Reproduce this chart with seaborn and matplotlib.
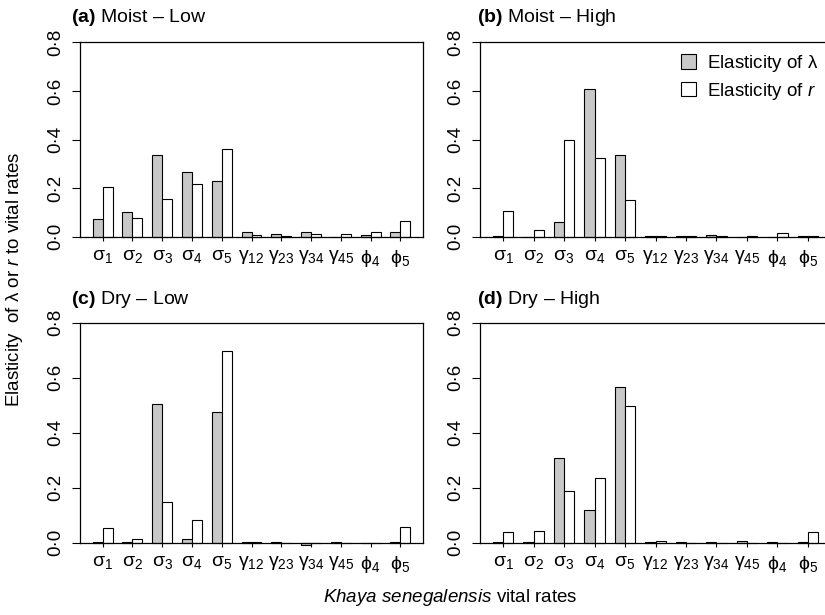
import pandas as pd
import matplotlib
matplotlib.use('Agg')
import matplotlib.pyplot as plt
import seaborn as sns
from matplotlib.patches import Patch

# Vital rates and their tick labels
rates = ['s1', 's2', 's3', 's4', 's5', 'g12', 'g23', 'g34', 'g45', 'p4', 'p5']
tick_labels = [r'$\mathrm{\sigma}_1$', r'$\mathrm{\sigma}_2$', r'$\mathrm{\sigma}_3$',
               r'$\mathrm{\sigma}_4$', r'$\mathrm{\sigma}_5$', r'$\mathrm{\gamma}_{12}$',
               r'$\mathrm{\gamma}_{23}$', r'$\mathrm{\gamma}_{34}$', r'$\mathrm{\gamma}_{45}$',
               r'$\mathrm{\phi}_4$', r'$\mathrm{\phi}_5$']

# Elasticities
lam_moist_low = [0.071, 0.100, 0.336, 0.266, 0.230, 0.018, 0.010, 0.018, -0.002, 0.005, 0.018]
r_moist_low = [0.203, 0.075, 0.154, 0.215, 0.359, 0.008, 0.004, 0.012, 0.011, 0.019, 0.063]
lam_moist_high = [0.001, -0.001, 0.059, 0.606, 0.336, 0.001, 0.001, 0.008, -0.002, 0.000, 0.004]
r_moist_high = [0.104, 0.029, 0.400, 0.322, 0.150, 0.002, 0.002, 0.001, 0.001, 0.015, 0.003]
lam_dry_low = [0.001, 0.002, 0.505, 0.015, 0.474, 0.002, 0.001, -0.008, 0.001, 0.000, 0.001]
r_dry_low = [0.055, 0.012, 0.148, 0.081, 0.698, 0.001, 0.000, 0.000, 0.000, 0.000, 0.057]
lam_dry_high = [0.001, 0.003, 0.309, 0.118, 0.567, 0.001, 0.001, 0.001, 0.008, 0.002, 0.001]
r_dry_high = [0.038, 0.041, 0.187, 0.234, 0.498, 0.006, 0.000, 0.000, 0.000, 0.000, 0.040]

panel_tags = ['(a)', '(b)', '(c)', '(d)']
panel_names = ['Moist \u2013 Low', 'Moist \u2013 High', 'Dry \u2013 Low', 'Dry \u2013 High']
panel_data = [(lam_moist_low, r_moist_low), (lam_moist_high, r_moist_high),
              (lam_dry_low, r_dry_low), (lam_dry_high, r_dry_high)]

sns.set_style('ticks')
plt.rcParams['font.family'] = ['Liberation Sans', 'DejaVu Sans']
plt.rcParams['text.color'] = 'black'
plt.rcParams['xtick.color'] = 'black'
plt.rcParams['ytick.color'] = 'black'
plt.rcParams['mathtext.fontset'] = 'custom'
plt.rcParams['mathtext.rm'] = 'Liberation Sans'
plt.rcParams['mathtext.it'] = 'Liberation Sans:italic'
plt.rcParams['mathtext.bf'] = 'Liberation Sans:bold'

W, H = 825, 615
fig = plt.figure(figsize=(W / 100, H / 100), dpi=100)

# panel boxes in pixels: left, top, right, bottom
boxes = [(80, 42.3, 423, 236.7), (480, 42.3, 831, 236.7),
         (80, 322.7, 423, 542.7), (480, 322.7, 831, 542.7)]
title_pos = [(71, 17.5), (477, 17.5), (71, 299), (477, 299)]

pal = {'lam': '#c8c8c8', 'r': 'white'}

for i, (lam, r) in enumerate(panel_data):
    l, t, rr, b = boxes[i]
    ax = fig.add_axes([l / W, 1 - b / H, (rr - l) / W, (b - t) / H])
    df = pd.DataFrame({'rate': rates * 2, 'value': lam + r,
                       'measure': ['lam'] * len(rates) + ['r'] * len(rates)})
    sns.barplot(data=df, x='rate', y='value', hue='measure', order=rates,
                hue_order=['lam', 'r'], palette=pal, saturation=1, width=2 / 3,
                gap=0, edgecolor='black', linewidth=0.8, errorbar=None,
                legend=False, ax=ax)
    for p in ax.patches:
        p.set_clip_on(False)
    ax.set_xlim(-0.76, 10.76)
    ax.set_ylim(0, 0.8)
    ax.set_yticks([0, 0.2, 0.4, 0.6, 0.8])
    ax.set_yticklabels(['0\u00b70', '0\u00b72', '0\u00b74', '0\u00b76', '0\u00b78'],
                       rotation=90, va='center')
    ax.set_xticks(range(len(rates)))
    ax.set_xticklabels(tick_labels)
    ax.tick_params(axis='y', length=6, width=0.8, labelsize=13.5, pad=5)
    ax.tick_params(axis='x', length=3, width=0.8, labelsize=14, pad=5)
    ax.set_xlabel('')
    ax.set_ylabel('')
    for s in ax.spines.values():
        s.set_linewidth(0.9)
        s.set_color('black')
    tx, ty = title_pos[i]
    fig.text(tx / W, 1 - ty / H, r'$\mathbf{' + panel_tags[i] + '}$ ' + panel_names[i],
             fontsize=14, ha='left', va='center')
    if i == 1:
        handles = [Patch(facecolor=pal['lam'], edgecolor='black', linewidth=0.8),
                   Patch(facecolor=pal['r'], edgecolor='black', linewidth=0.8)]
        ax.legend(handles, [r'Elasticity of $\mathrm{\lambda}$', r'Elasticity of $r$'],
                  loc='upper right', bbox_to_anchor=(818 / W, 1 - 53 / H),
                  bbox_transform=fig.transFigure, frameon=False, fontsize=13.5,
                  handlelength=0.8, handleheight=0.8, handletextpad=0.6,
                  labelspacing=0.35, borderaxespad=0, borderpad=0)

fig.text(15 / W, 1 - 279 / H, r'Elasticity  of $\mathrm{\lambda}$ or $r$ to vital rates',
         rotation=90, fontsize=13.5, ha='center', va='center')
fig.text(450 / W, 1 - 598 / H, r'$\mathit{Khaya\ senegalensis}$ vital rates',
         fontsize=13.5, ha='center', va='center')

fig.savefig('out.png', dpi=100)
